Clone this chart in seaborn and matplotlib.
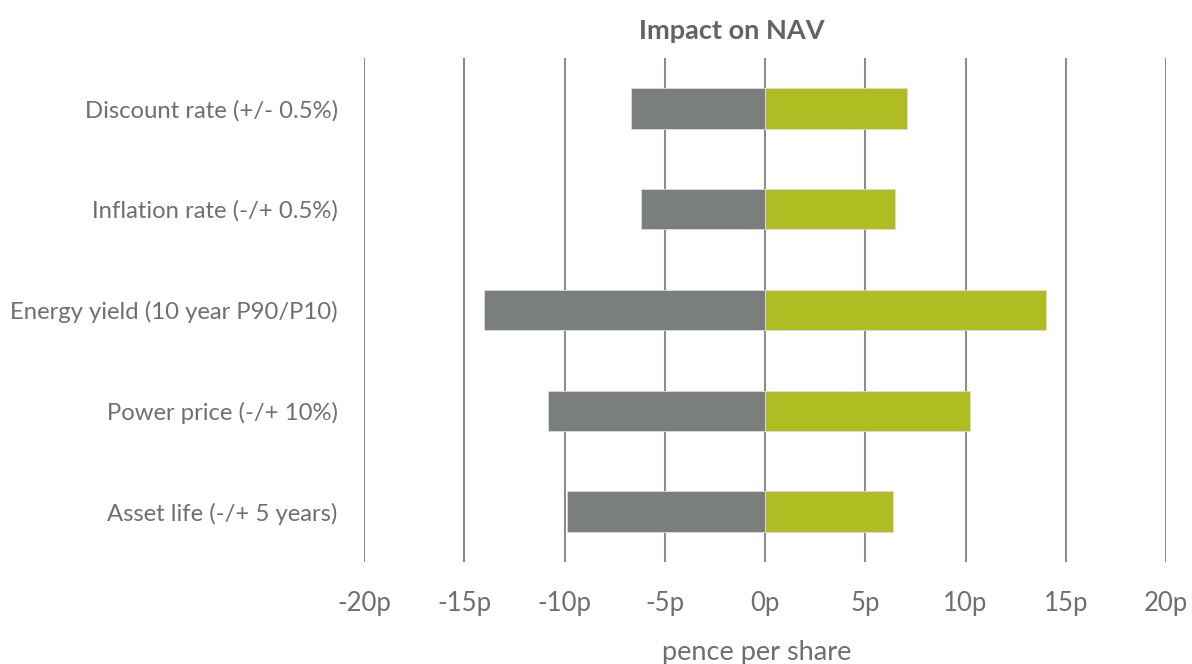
import pandas as pd
import matplotlib.pyplot as plt
import seaborn as sns

categorias = ['Discount rate (+/- 0.5%)', 'Inflation rate (-/+ 0.5%)',
              'Energy yield (10 year P90/P10)', 'Power price (-/+ 10%)',
              'Asset life (-/+ 5 years)']
negativo = [-6.7, -6.2, -14.0, -10.8, -9.9]
positivo = [7.1, 6.5, 14.0, 10.2, 6.4]
ticks_x = [-20, -15, -10, -5, 0, 5, 10, 15, 20]

cinza = '#7a7f7e'
verde = '#afbc22'
texto = '#6d6f71'

sns.set_style('white')
plt.rcParams['font.family'] = ['Lato', 'DejaVu Sans']

dados = pd.DataFrame({
    'categoria': categorias * 2,
    'valor': negativo + positivo,
    'lado': ['neg'] * len(categorias) + ['pos'] * len(categorias),
})

figura = plt.figure(figsize=(11.92, 6.64), dpi=100)
eixo = figura.add_axes([0.3054, 0.1536, 0.6728, 0.7591])
sns.barplot(data=dados, y='categoria', x='valor', hue='lado', dodge=False,
            palette={'neg': cinza, 'pos': verde}, orient='h', width=0.4,
            saturation=1, edgecolor='#dcdcdc', linewidth=0.6, legend=False, ax=eixo)

eixo.set_xlim(-20, 20)
eixo.set_ylim(4.5, -0.5)
eixo.set_xticks(ticks_x)
eixo.set_xticklabels([f'{t}p' for t in ticks_x])
eixo.set_axisbelow(True)
eixo.grid(axis='x', color='#8a8c8e', linewidth=1.5)
eixo.grid(axis='y', visible=False)
for lado in eixo.spines.values():
    lado.set_visible(False)
eixo.tick_params(axis='both', length=0, labelcolor=texto)
eixo.tick_params(axis='x', pad=21, labelsize=18.5)
eixo.tick_params(axis='y', pad=19, labelsize=17.2)
eixo.set_ylabel('')
eixo.set_xlabel('pence per share', fontsize=19.5, color=texto, labelpad=10)
eixo.xaxis.set_label_coords(0.489, -0.155)
eixo.set_title('Impact on NAV', fontsize=19.5, fontweight='bold', color='#5f6468',
               x=0.458, pad=14)

figura.savefig('out.png', dpi=100)
